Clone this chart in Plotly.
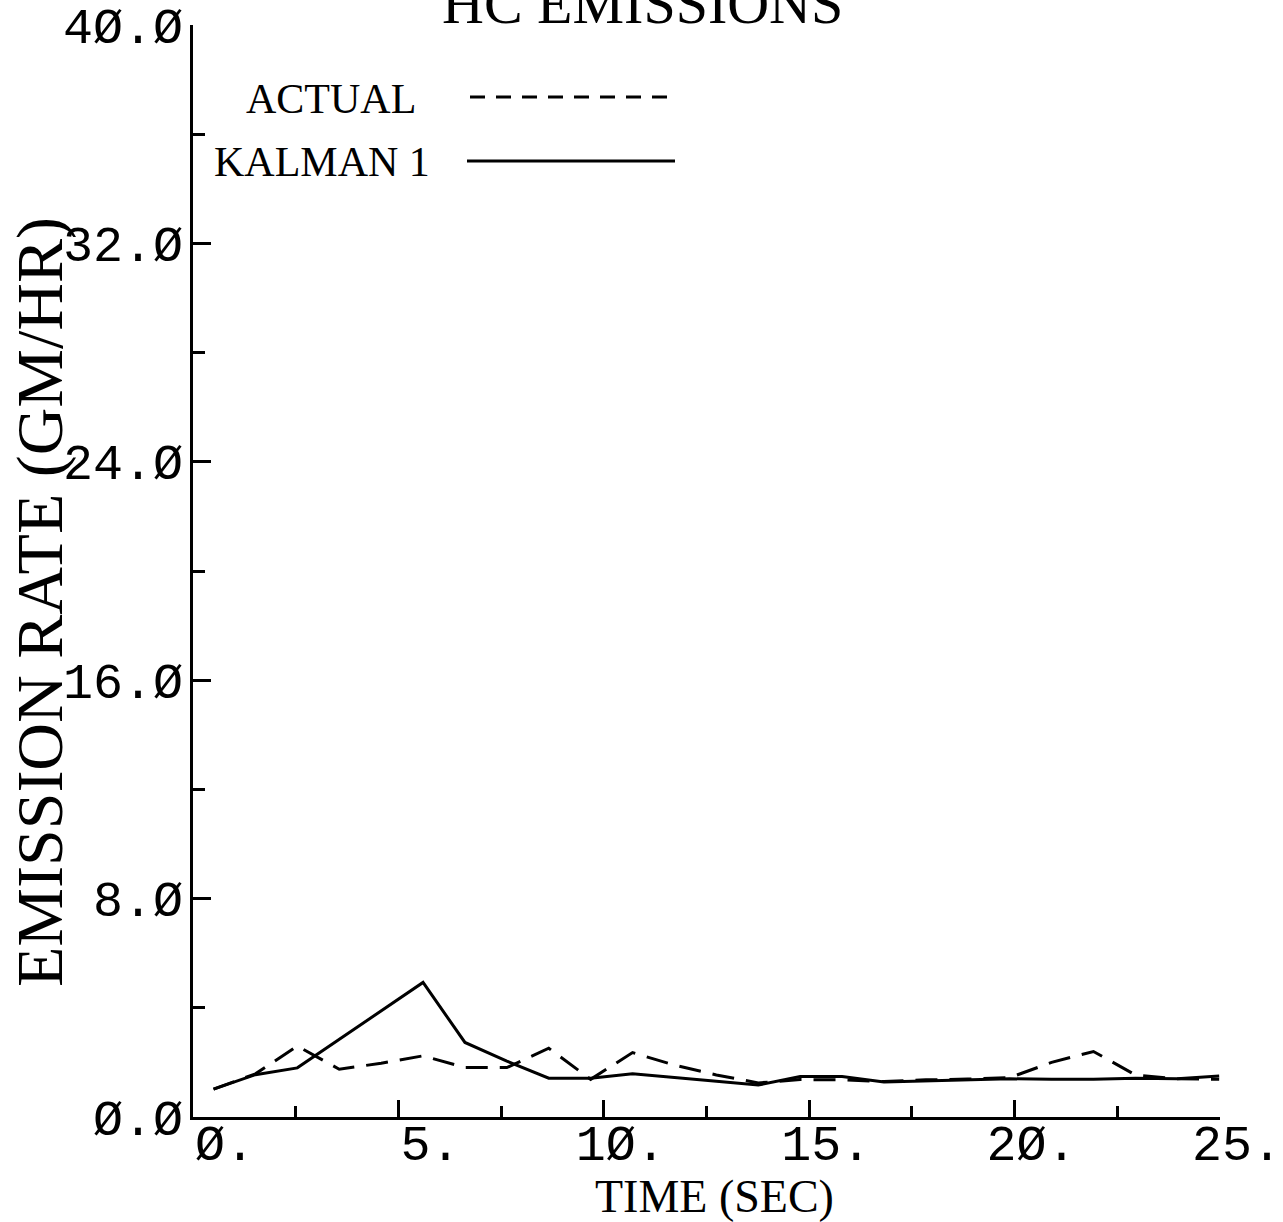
import plotly.graph_objects as go

# ---- data ----
time_sec = [0.50, 1.52, 2.54, 3.56, 4.58, 5.60, 6.62, 7.64, 8.66, 9.68,
            10.70, 11.72, 12.74, 13.76, 14.78, 15.80, 16.82, 17.84, 18.86,
            19.88, 20.90, 21.92, 22.94, 23.96, 24.98]
actual = [1.02, 1.58, 2.60, 1.75, 1.97, 2.24, 1.81, 1.81, 2.52, 1.38,
          2.36, 1.90, 1.54, 1.25, 1.37, 1.36, 1.30, 1.36, 1.39,
          1.44, 2.00, 2.40, 1.54, 1.40, 1.38]
kalman1 = [1.02, 1.55, 1.80, 2.85, 3.88, 4.93, 2.73, 2.05, 1.42, 1.42,
           1.58, 1.44, 1.31, 1.17, 1.48, 1.48, 1.28, 1.32, 1.36,
           1.40, 1.38, 1.38, 1.42, 1.40, 1.50]

x_major = [0, 5, 10, 15, 20, 25]
x_labels = ["\u00a0Ø.", "\u00a05.", "1Ø.", "15.", "2Ø.", "25."]
x_minor = [2.5, 7.5, 12.5, 17.5, 22.5]
y_major = [0, 8, 16, 24, 32, 40]
y_labels = ["Ø.Ø", "8.Ø", "16.Ø", "24.Ø", "32.Ø", "4Ø.Ø"]
y_minor = [4, 12, 20, 28, 36]

title_text = "HC EMISSIONS"
x_title = "TIME (SEC)"
y_title = "EMISSION RATE (GM/HR)"
legend_names = ["ACTUAL", "KALMAN 1"]

W, H = 1283, 1222
L, R, T, B = 193, 63, 25, 105
pw, ph = W - L - R, H - T - B

def px_x(px):
    return (px - L) / pw

def px_y(py):
    return (H - B - py) / ph

fig = go.Figure()
fig.add_trace(go.Scatter(x=time_sec, y=actual, mode="lines", name=legend_names[0],
                         line=dict(color="black", width=3, dash="22px,12px")))
fig.add_trace(go.Scatter(x=time_sec, y=kalman1, mode="lines", name=legend_names[1],
                         line=dict(color="black", width=3)))

tickfont = dict(family="Liberation Mono", size=50, color="black")
serif = "Liberation Serif"

fig.update_layout(
    width=W, height=H,
    margin=dict(l=L, r=R, t=T, b=B, autoexpand=False),
    paper_bgcolor="white", plot_bgcolor="white",
    showlegend=False,
    xaxis=dict(range=[0, 25], showgrid=False, zeroline=False, automargin=False,
               showline=True, linecolor="black", linewidth=3,
               ticks="inside", ticklen=17, tickwidth=3, tickcolor="black",
               tickmode="array", tickvals=x_major, ticktext=x_labels,
               tickfont=tickfont, ticklabelshift=17, ticklabelstandoff=-20,
               minor=dict(tickmode="array", tickvals=x_minor, ticks="inside",
                          ticklen=11, tickwidth=3, tickcolor="black")),
    yaxis=dict(range=[0, 40], showgrid=False, zeroline=False, automargin=False,
               showline=True, linecolor="black", linewidth=3,
               ticks="inside", ticklen=18, tickwidth=3, tickcolor="black",
               tickmode="array", tickvals=y_major, ticktext=y_labels,
               tickfont=tickfont, ticklabelstandoff=-3,
               minor=dict(tickmode="array", tickvals=y_minor, ticks="inside",
                          ticklen=12, tickwidth=3, tickcolor="black")),
)

annotations = [
    dict(text=title_text, xref="paper", yref="paper", x=px_x(642), y=px_y(38),
         xanchor="center", yanchor="bottom", showarrow=False,
         font=dict(family=serif, size=58, color="black")),
    dict(text=x_title, xref="paper", yref="paper", x=px_x(714), y=px_y(1196),
         xanchor="center", yanchor="middle", showarrow=False,
         font=dict(family=serif, size=46, color="black")),
    dict(text=y_title, xref="paper", yref="paper", x=px_x(40), y=px_y(602),
         xanchor="center", yanchor="middle", showarrow=False, textangle=-90,
         font=dict(family=serif, size=66, color="black")),
    dict(text=legend_names[0], xref="paper", yref="paper", x=px_x(331), y=px_y(99),
         xanchor="center", yanchor="middle", showarrow=False,
         font=dict(family=serif, size=42, color="black")),
    dict(text=legend_names[1], xref="paper", yref="paper", x=px_x(322), y=px_y(162),
         xanchor="center", yanchor="middle", showarrow=False,
         font=dict(family=serif, size=42, color="black")),
]
fig.update_layout(annotations=annotations)

# legend key samples
fig.add_shape(type="line", xref="paper", yref="paper",
              x0=px_x(470), x1=px_x(675), y0=px_y(97), y1=px_y(97),
              line=dict(color="black", width=3, dash="15px,11px"))
fig.add_shape(type="line", xref="paper", yref="paper",
              x0=px_x(467), x1=px_x(675), y0=px_y(161), y1=px_y(161),
              line=dict(color="black", width=3))

fig.write_html("out.html")
